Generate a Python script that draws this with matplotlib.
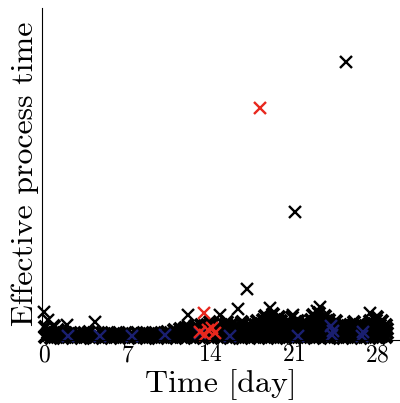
import matplotlib
matplotlib.use('Agg')
from matplotlib import pyplot as plt

plt.rcParams['font.family'] = 'cmr10'
plt.rcParams['mathtext.fontset'] = 'cm'
plt.rcParams['axes.formatter.use_mathtext'] = True

# Dense cloud of jobs near the bottom (day, effective process time)
cloud_day = [
    # lowest layer
    0.1, 0.55, 1.1, 1.6, 2.05, 2.6, 3.1, 3.55, 4.1, 4.65, 5.1, 5.6, 6.05, 6.6, 7.1,
    7.55, 8.1, 8.6, 9.05, 9.6, 10.1, 10.65, 11.1, 11.6, 12.05, 12.6, 13.1, 13.55,
    14.1, 14.6, 15.05, 15.6, 16.1, 16.65, 17.1, 17.6, 18.05, 18.6, 19.1, 19.55, 20.1,
    20.6, 21.05, 21.6, 22.1, 22.65, 23.1, 23.6, 24.05, 24.6, 25.1, 25.55, 26.1, 26.6,
    27.05, 27.6, 28.1, 28.7,
    # second layer
    0.35, 0.85, 1.35, 1.85, 2.3, 2.85, 3.35, 3.8, 4.35, 4.9, 5.35, 5.85, 6.3, 6.85,
    7.35, 7.8, 8.35, 8.85, 9.3, 9.85, 10.35, 10.9, 11.35, 11.85, 12.3, 12.85, 13.35,
    13.8, 14.35, 14.85, 15.3, 15.85, 16.35, 16.9, 17.35, 17.85, 18.3, 18.85, 19.35,
    19.8, 20.35, 20.85, 21.3, 21.85, 22.35, 22.9, 23.35, 23.85, 24.3, 24.85, 25.35,
    25.8, 26.35, 26.85, 27.3, 27.85, 28.35, 28.85,
    # third layer
    0.1, 0.4, 0.8, 1.2, 10.9, 11.4, 11.85, 12.4, 12.9, 13.35, 13.9, 14.4, 14.85, 15.4,
    15.9, 16.35, 16.9, 17.4, 17.85, 18.4, 18.9, 19.35, 19.9, 20.4, 20.85, 21.4, 21.9,
    22.35, 22.9, 23.4, 23.85, 24.4, 24.9, 25.35, 25.9, 26.4, 26.85, 27.4, 27.9, 28.35,
    28.8,
    # fourth layer
    12.1, 12.7, 13.2, 13.7, 14.2, 14.7, 15.2, 15.7, 16.2, 16.7, 17.2, 17.7, 18.2, 18.7,
    19.2, 19.7, 20.2, 20.7, 21.2, 21.7, 22.2, 22.7, 23.2, 23.7, 24.2, 24.7, 25.2, 25.7,
    26.2, 26.7, 27.2, 27.7, 28.2, 28.7,
    # fifth layer
    13.9, 15.4, 16.6, 17.9, 18.4, 18.9, 19.4, 19.9, 20.5, 21.3, 21.9, 22.4, 22.9, 23.4,
    23.9, 24.5, 26.0, 27.4, 27.9, 28.4,
    # top spikes
    18.6, 19.2, 19.7, 20.8, 22.6, 23.1, 23.6, 28.0,
    # fill between first and second layers
    0.3, 1.35, 2.3, 3.35, 4.35, 5.35, 6.3, 7.35, 8.35, 9.3, 10.35, 11.35, 12.3, 13.3,
    14.3, 15.3, 16.35, 17.35, 18.3, 19.35, 20.35, 21.3, 22.35, 23.35, 24.3, 25.35,
    26.35, 27.3, 28.35,
]
cloud_val = [
    0.8, 0.7, 0.9, 0.6, 0.8, 0.9, 0.7, 0.8, 0.6, 0.9, 0.8, 0.7, 0.9, 0.8, 0.6,
    0.8, 0.9, 0.7, 0.8, 0.6, 0.9, 0.8, 0.7, 0.9, 0.8, 0.6, 0.8, 0.9,
    0.7, 0.8, 0.9, 0.6, 0.8, 0.7, 0.9, 0.8, 0.6, 0.9, 0.8, 0.7, 0.9,
    0.8, 0.6, 0.8, 0.9, 0.7, 0.8, 0.9, 0.6, 0.8, 0.7, 0.9, 0.8, 0.6,
    0.9, 0.8, 0.7, 0.8,
    2.1, 2.0, 1.9, 2.2, 2.0, 1.8, 2.1, 2.3, 1.9, 2.0, 2.2, 1.9, 2.0, 2.1,
    1.8, 2.2, 2.0, 1.9, 2.1, 2.0, 2.3, 1.9, 2.2, 2.0, 2.4, 2.1, 2.0,
    2.2, 1.9, 2.1, 2.0, 2.3, 1.9, 2.1, 2.0, 2.2, 1.9, 2.0, 2.1,
    2.2, 1.9, 2.0, 2.1, 2.2, 1.9, 2.0, 2.2, 2.1, 1.9, 2.0, 2.2,
    2.1, 1.9, 2.0, 2.2, 2.1, 1.9, 2.0,
    4.0, 3.2, 4.2, 3.0, 3.1, 3.4, 3.6, 3.3, 3.5, 3.4, 3.6, 3.3, 3.5, 3.4,
    3.6, 3.3, 3.5, 3.4, 3.6, 3.3, 3.5, 3.4, 3.6, 3.3, 3.5, 3.4, 3.6,
    3.3, 3.5, 3.4, 3.6, 3.3, 3.5, 3.4, 3.6, 3.3, 3.5, 3.4, 3.6, 3.3,
    3.5,
    4.0, 4.2, 4.6, 4.5, 4.8, 4.4, 4.7, 4.6, 4.3, 4.8, 4.5, 4.7, 4.9, 4.6,
    4.8, 4.5, 4.7, 4.6, 4.4, 4.8, 4.6, 4.9, 4.7, 4.5, 4.6, 4.4, 4.5, 4.7,
    4.3, 4.5, 4.6, 4.8, 4.7, 4.5,
    5.5, 5.6, 5.4, 5.7, 6.0, 6.3, 6.1, 5.9, 5.8, 5.9, 5.6, 6.2, 6.4, 6.1,
    6.0, 5.8, 5.4, 5.9, 6.2, 5.8,
    7.4, 7.8, 7.0, 6.9, 7.6, 8.2, 7.3, 7.0,
    1.4, 1.3, 1.5, 1.4, 1.3, 1.5, 1.4, 1.3, 1.5, 1.4, 1.3, 1.5, 1.4, 1.3,
    1.5, 1.4, 1.3, 1.5, 1.4, 1.3, 1.5, 1.4, 1.3, 1.5, 1.4, 1.3,
    1.5, 1.4, 1.3,
]

# Scattered jobs above the cloud
out_day = [25.4, 21.1, 17.05, 16.3, 23.2, 4.3, 0.0, 12.1, 14.8, 20.9, 27.4, 19.0, 1.9, 22.9, 0.3]
out_val = [83.7, 38.6, 15.4, 9.3, 9.9, 5.4, 8.4, 7.5, 7.5, 7.5, 8.1, 9.6, 4.5, 8.8, 6.0]

# Highlighted jobs
red_day = [18.15, 13.4, 13.1, 13.5, 13.8, 14.1, 14.4]
red_val = [69.9, 8.1, 2.4, 1.5, 3.0, 3.6, 2.1]
blue_day = [2.0, 4.7, 7.4, 10.2, 13.1, 15.6, 21.3, 24.2, 24.3, 24.1, 26.7, 26.8]
blue_val = [1.3, 1.3, 1.3, 1.4, 2.0, 1.2, 1.3, 1.4, 2.8, 4.2, 1.3, 2.5]

xticks = [0, 7, 14, 21, 28]

fig = plt.figure(figsize=(4.0, 4.03), dpi=100)
ax = fig.add_axes([0.105, 0.156, 0.895, 0.824])

mk = dict(marker='x', linestyle='none', clip_on=False)
# the cloud is drawn with heavier strokes so that it reads as a solid band
ax.plot(cloud_day, cloud_val, color='black', markersize=8, markeredgewidth=2.8, **mk)
ax.plot(out_day, out_val, color='black', markersize=8, markeredgewidth=1.7, **mk)
ax.plot(blue_day, blue_val, color='#1a1f70', markersize=8, markeredgewidth=1.7, **mk)
ax.plot(red_day, red_val, color='#e8281e', markersize=8, markeredgewidth=1.7, **mk)

ax.set_xlim(-0.17, 29.9)
ax.set_ylim(0, 100)
ax.set_xticks(xticks)
ax.set_yticks([])
ax.tick_params(axis='x', length=0, pad=3, labelsize=17)
for s in ['top', 'right']:
    ax.spines[s].set_visible(False)
ax.spines['left'].set_linewidth(0.8)
ax.spines['bottom'].set_linewidth(0.8)

ax.set_xlabel('Time [day]', fontsize=23, labelpad=2)
ax.set_ylabel('Effective process time', fontsize=23, labelpad=2)

fig.savefig('out.png', dpi=100)
